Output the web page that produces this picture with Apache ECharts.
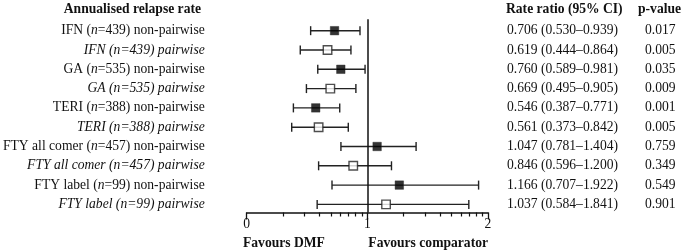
<!DOCTYPE html>
<html><head><meta charset="utf-8">
<script src="https://cdn.jsdelivr.net/npm/echarts@6/dist/echarts.min.js"></script>
<style>html,body{margin:0;padding:0;background:#fff}#c{width:685px;height:252px}</style>
</head><body><div id="c"></div>
<script>
// ---- data ----
var treatments = ['IFN', 'IFN', 'GA', 'GA', 'TERI', 'TERI', 'FTY all comer', 'FTY all comer', 'FTY label', 'FTY label'];
var sampleSizes = [439, 439, 535, 535, 388, 388, 457, 457, 99, 99];
var analyses = ['non-pairwise', 'pairwise', 'non-pairwise', 'pairwise', 'non-pairwise', 'pairwise', 'non-pairwise', 'pairwise', 'non-pairwise', 'pairwise'];
var rateRatio = [0.706, 0.619, 0.760, 0.669, 0.546, 0.561, 1.047, 0.846, 1.166, 1.037];
var ciLower = [0.530, 0.444, 0.589, 0.495, 0.387, 0.373, 0.781, 0.596, 0.707, 0.584];
var ciUpper = [0.939, 0.864, 0.981, 0.905, 0.771, 0.842, 1.404, 1.200, 1.922, 1.841];
// marker positions as drawn in the picture
var markerPos = [0.728, 0.670, 0.780, 0.693, 0.572, 0.596, 1.081, 0.883, 1.265, 1.155];
var pValues = ['0.017', '0.005', '0.035', '0.009', '0.001', '0.005', '0.759', '0.349', '0.549', '0.901'];
var xTickLabels = ['0', '1', '2'];
var minorTicks = [];
[0, 1].forEach(function (d) { for (var m = 2; m <= 9; m++) minorTicks.push(d + Math.log10(m)); });

var rows = treatments.map(function (t, i) { return i; });
var FONT = '"Liberation Serif", "DejaVu Serif", serif';
var FS = 13.6;
var INK = '#111';

var chart = echarts.init(document.getElementById('c'), null, { renderer: 'canvas' });

function leftLabel(i) {
  if (analyses[i] === 'pairwise') {
    return '{it|' + treatments[i] + ' (n=' + sampleSizes[i] + ') ' + analyses[i] + '}';
  }
  return '{r|' + treatments[i] + ' (}{it|n}{r|=' + sampleSizes[i] + ') ' + analyses[i] + '}';
}
function rightLabel(i) {
  return '{a|' + rateRatio[i].toFixed(3) + ' (' + ciLower[i].toFixed(3) + '\u2013' + ciUpper[i].toFixed(3) + ')}{b|' + pValues[i] + '}';
}

var yCommon = {
  type: 'value', min: -0.59, max: 9.42, inverse: true,
  axisLine: { show: false }, axisTick: { show: false }, splitLine: { show: false }
};

var option = {
  animation: false,
  backgroundColor: '#fff',
  grid: { left: 243, right: 197, top: 19.3, bottom: 39.5, containLabel: false },
  xAxis: [{
    type: 'value', min: 0, max: 2, interval: 1, position: 'bottom',
    axisLine: { show: true, onZero: false, lineStyle: { color: INK, width: 1.5 } },
    axisTick: { show: true, length: 7, lineStyle: { color: INK, width: 1.3 } },
    axisLabel: { show: true, margin: 5, color: INK, fontFamily: FONT, fontSize: FS,
      formatter: function (v) { return xTickLabels[Math.round(v)]; } },
    splitLine: { show: false }
  }, {
    type: 'value', min: 0, max: 2, position: 'bottom',
    axisLine: { show: false, onZero: false },
    axisTick: { show: true, length: 4, customValues: minorTicks, lineStyle: { color: INK, width: 1.2 } },
    axisLabel: { show: false },
    splitLine: { show: false }
  }],
  yAxis: [Object.assign({}, yCommon, {
    position: 'left',
    axisLabel: {
      show: true, customValues: rows, margin: 42, align: 'right',
      formatter: function (v) { return leftLabel(Math.round(v)); },
      rich: {
        r: { fontFamily: FONT, fontSize: FS, color: INK },
        it: { fontFamily: FONT, fontSize: FS, fontStyle: 'italic', color: INK }
      }
    }
  }), Object.assign({}, yCommon, {
    position: 'right',
    axisLabel: {
      show: true, customValues: rows, margin: 19, align: 'left',
      formatter: function (v) { return rightLabel(Math.round(v)); },
      rich: {
        a: { fontFamily: FONT, fontSize: FS, color: INK, width: 138 },
        b: { fontFamily: FONT, fontSize: FS, color: INK }
      }
    }
  })],
  graphic: [
    { type: 'text', x: 201, y: 9, style: { text: 'Annualised relapse rate', font: 'bold ' + FS + 'px ' + FONT, fill: INK, textAlign: 'right', textVerticalAlign: 'middle' } },
    { type: 'text', x: 506, y: 9, style: { text: 'Rate ratio (95% CI)', font: 'bold ' + FS + 'px ' + FONT, fill: INK, textAlign: 'left', textVerticalAlign: 'middle' } },
    { type: 'text', x: 638, y: 9, style: { text: 'p-value', font: 'bold ' + FS + 'px ' + FONT, fill: INK, textAlign: 'left', textVerticalAlign: 'middle' } },
    { type: 'text', x: 243, y: 243, style: { text: 'Favours DMF', font: 'bold ' + FS + 'px ' + FONT, fill: INK, textAlign: 'left', textVerticalAlign: 'middle' } },
    { type: 'text', x: 488, y: 243, style: { text: 'Favours comparator', font: 'bold ' + FS + 'px ' + FONT, fill: INK, textAlign: 'right', textVerticalAlign: 'middle' } }
  ],
  series: [{
    type: 'custom',
    xAxisIndex: 0, yAxisIndex: 0,
    data: rows.map(function (i) { return [ciLower[i], ciUpper[i], i]; }),
    renderItem: function (params, api) {
      var lo = api.coord([api.value(0), api.value(2)]);
      var hi = api.coord([api.value(1), api.value(2)]);
      var h = 4.5;
      var st = { stroke: '#222', lineWidth: 1.4 };
      return { type: 'group', children: [
        { type: 'line', shape: { x1: lo[0], y1: lo[1], x2: hi[0], y2: hi[1] }, style: st },
        { type: 'line', shape: { x1: lo[0], y1: lo[1] - h, x2: lo[0], y2: lo[1] + h }, style: st },
        { type: 'line', shape: { x1: hi[0], y1: hi[1] - h, x2: hi[0], y2: hi[1] + h }, style: st }
      ] };
    },
    markLine: {
      silent: true, symbol: 'none', label: { show: false },
      lineStyle: { color: '#111', width: 1.5, type: 'solid' },
      data: [{ xAxis: 1 }]
    },
    z: 2
  }, {
    type: 'scatter',
    xAxisIndex: 0, yAxisIndex: 0,
    symbol: 'rect', symbolSize: 8.5,
    data: rows.map(function (i) {
      var filled = analyses[i] === 'non-pairwise';
      return { value: [markerPos[i], i], itemStyle: { color: filled ? '#000' : '#fff', borderColor: '#222', borderWidth: filled ? 0.5 : 1.4 } };
    }),
    z: 5
  }]
};
chart.setOption(option);
</script></body></html>
